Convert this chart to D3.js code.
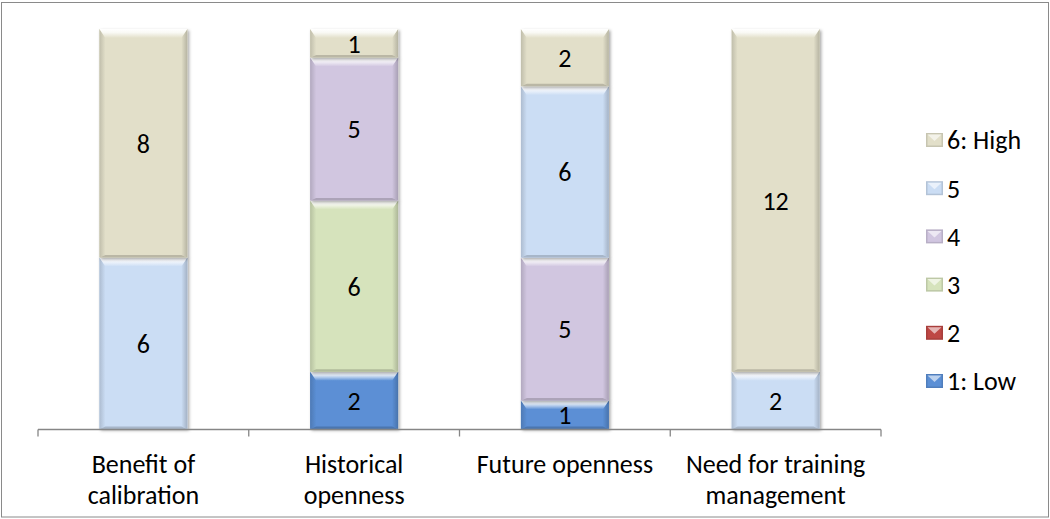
<!DOCTYPE html>
<html>
<head>
<meta charset="utf-8">
<script src="https://cdn.jsdelivr.net/npm/d3@7"></script>
<style>
  html, body { margin: 0; padding: 0; background: #fff; }
  svg { display: block; font-family: Calibri, Carlito, Lato, sans-serif; }
</style>
</head>
<body>
<svg id="chart" width="1050" height="519"></svg>
<script>
// Survey responses per question, stacked by rating level
const categories = [
  ["Benefit of", "calibration"],
  ["Historical", "openness"],
  ["Future openness"],
  ["Need for training", "management"]
];
const levels = ["1: Low", "2", "3", "4", "5", "6: High"];
const low  = [0, 2, 1, 0];
const two  = [0, 0, 0, 0];
const three = [0, 6, 0, 0];
const four = [0, 5, 5, 0];
const five = [6, 0, 6, 2];
const high = [8, 1, 2, 12];
const levelColors = ["#5B8FD5", "#BE4744", "#D6E3BC", "#D1C6E0", "#CBDDF4", "#E2DFC9"];

const series = [low, two, three, four, five, high];
const rows = categories.map((c, i) => {
  const r = { key: i };
  levels.forEach((l, j) => { r[l] = series[j][i]; });
  return r;
});

const svg = d3.select("#chart");
const W = 1050, H = 519;
const FONT = 26;

// outer chart frame
svg.append("rect")
  .attr("x", 1.5).attr("y", 2.5).attr("width", W - 3).attr("height", H - 4.5)
  .attr("fill", "#fff").attr("stroke", "#8a8a8a").attr("stroke-width", 1);

const x = d3.scaleBand()
  .domain(d3.range(categories.length))
  .range([38, 881])
  .paddingInner(0.583)
  .paddingOuter(0.2915);

const y = d3.scaleLinear().domain([0, 14]).range([429, 29]);

const stacked = d3.stack().keys(levels)(rows);

const defs = svg.append("defs");
const shadow = defs.append("filter").attr("id", "shade")
  .attr("x", "-10%").attr("y", "-10%").attr("width", "130%").attr("height", "130%");
shadow.append("feDropShadow")
  .attr("dx", 1.5).attr("dy", 1.5).attr("stdDeviation", 1.6)
  .attr("flood-color", "#000").attr("flood-opacity", 0.35);

levels.forEach((l, j) => {
  const base = d3.color(levelColors[j]);
  const g = defs.append("linearGradient").attr("id", "top" + j)
    .attr("x1", 0).attr("y1", 0).attr("x2", 0).attr("y2", 1);
  g.append("stop").attr("offset", "0%").attr("stop-color", "#ffffff");
  g.append("stop").attr("offset", "40%").attr("stop-color", d3.interpolateRgb("#ffffff", base)(0.2));
  g.append("stop").attr("offset", "100%").attr("stop-color", base.formatHex());
  const s = defs.append("linearGradient").attr("id", "side" + j)
    .attr("x1", 0).attr("y1", 0).attr("x2", 1).attr("y2", 0);
  s.append("stop").attr("offset", "0%").attr("stop-color", base.darker(0.45).formatHex());
  s.append("stop").attr("offset", "100%").attr("stop-color", base.formatHex());
  const r = defs.append("linearGradient").attr("id", "rside" + j)
    .attr("x1", 0).attr("y1", 0).attr("x2", 1).attr("y2", 0);
  r.append("stop").attr("offset", "0%").attr("stop-color", base.formatHex());
  r.append("stop").attr("offset", "100%").attr("stop-color", base.darker(0.6).formatHex());
});

// draws one bevelled block
function bevelBlock(g, x0, y0, w, h, j, tb, sb, bb) {
  const base = d3.color(levelColors[j]);
  const pts = a => a.map(p => p.join(",")).join(" ");
  g.append("rect").attr("x", x0).attr("y", y0).attr("width", w).attr("height", h)
    .attr("fill", base.formatHex());
  tb = Math.min(tb, h / 2); sb = Math.min(sb, w / 2); bb = Math.min(bb, h / 3);
  // left edge
  g.append("polygon").attr("points", pts([[x0, y0], [x0 + sb, y0 + tb], [x0 + sb, y0 + h - bb], [x0, y0 + h]]))
    .attr("fill", `url(#side${j})`);
  // right edge
  g.append("polygon").attr("points", pts([[x0 + w, y0], [x0 + w - sb, y0 + tb], [x0 + w - sb, y0 + h - bb], [x0 + w, y0 + h]]))
    .attr("fill", `url(#rside${j})`);
  // bottom edge
  g.append("polygon").attr("points", pts([[x0, y0 + h], [x0 + sb, y0 + h - bb], [x0 + w - sb, y0 + h - bb], [x0 + w, y0 + h]]))
    .attr("fill", base.darker(0.55).formatHex());
  // top highlight
  g.append("polygon").attr("points", pts([[x0, y0], [x0 + w, y0], [x0 + w - sb, y0 + tb], [x0 + sb, y0 + tb]]))
    .attr("fill", `url(#top${j})`);
}

const bars = svg.append("g");
stacked.forEach((layer, j) => {
  layer.forEach((d, i) => {
    const v = d[1] - d[0];
    if (v <= 0) return;
    const x0 = x(i), w = x.bandwidth();
    const yTop = y(d[1]), yBot = y(d[0]);
    const g = bars.append("g").attr("filter", "url(#shade)");
    bevelBlock(g, x0, yTop, w, yBot - yTop, j, 9, 6, 2.5);
  });
});

// value labels
const labels = svg.append("g").attr("font-size", FONT).attr("fill", "#000").attr("text-anchor", "middle");
stacked.forEach((layer, j) => {
  layer.forEach((d, i) => {
    const v = d[1] - d[0];
    if (v <= 0) return;
    labels.append("text")
      .attr("x", x(i) + x.bandwidth() / 2)
      .attr("y", (y(d[0]) + y(d[1])) / 2)
      .attr("dy", "0.36em")
      .text(v);
  });
});

// category axis
const axis = svg.append("g").attr("stroke", "#868686").attr("stroke-width", 1.3);
axis.append("line").attr("x1", 38).attr("x2", 881).attr("y1", 429.5).attr("y2", 429.5);
const tickXs = x.domain().map(i => x(i) - x.step() * x.paddingInner() / 2).concat([881]);
tickXs[0] = 38;
tickXs.forEach(tx => {
  axis.append("line").attr("x1", tx).attr("x2", tx).attr("y1", 429.5).attr("y2", 436.5);
});

const catText = svg.append("g").attr("font-size", FONT).attr("fill", "#000").attr("text-anchor", "middle");
categories.forEach((lines, i) => {
  const t = catText.append("text").attr("x", x(i) + x.bandwidth() / 2).attr("y", 473);
  lines.forEach((ln, k) => {
    t.append("tspan").attr("x", x(i) + x.bandwidth() / 2).attr("dy", k === 0 ? 0 : 31).text(ln);
  });
});

// legend, highest level first
const legendY = d3.scalePoint().domain(levels.slice().reverse()).range([140, 381]);
const legend = svg.append("g");
levels.slice().reverse().forEach(l => {
  const j = levels.indexOf(l);
  const cy = legendY(l);
  const g = legend.append("g");
  const base = d3.color(levelColors[j]);
  const sx = 926, sy = cy - 7, sw = 17, sh = 14;
  g.append("rect").attr("x", sx).attr("y", sy).attr("width", sw).attr("height", sh)
    .attr("fill", base.darker(0.35).formatHex());
  g.append("rect").attr("x", sx + 1.5).attr("y", sy + 1.5).attr("width", sw - 3).attr("height", sh - 3)
    .attr("fill", base.formatHex());
  g.append("polygon")
    .attr("points", [[sx + 1.5, sy + 1.5], [sx + sw - 1.5, sy + 1.5], [sx + sw / 2, sy + sh / 2 + 1]].map(p => p.join(",")).join(" "))
    .attr("fill", d3.interpolateRgb("#ffffff", base)(0.4));
  g.append("text").attr("x", 947).attr("y", cy).attr("dy", "0.36em")
    .attr("font-size", FONT).attr("fill", "#000").text(l);
});
</script>
</body>
</html>
